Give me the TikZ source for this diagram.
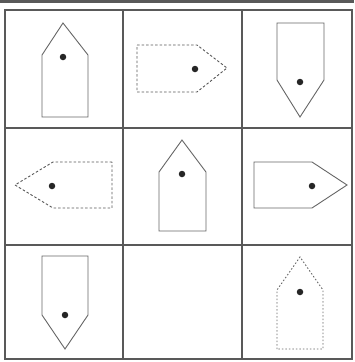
\documentclass[tikz,border=0pt]{standalone}
\begin{document}
\begin{tikzpicture}[x=1pt,y=-1pt,
  gridline/.style={draw=black!65,line width=1.1pt},
  solidshape/.style={draw=black!60,line width=0.9pt},
  dashshape/.style={draw=black!65,line width=0.9pt,dash pattern=on 2.5pt off 2pt},
  dotshape/.style={draw=black!60,line width=0.9pt,dash pattern=on 1.5pt off 2pt},
  dotmark/.style={fill=black!85,circle,inner sep=0pt,minimum size=6.5pt}]
\useasboundingbox (0,0) rectangle (354,362);
\fill[white] (0,0) rectangle (354,362);
\fill[black!65] (0,0) rectangle (354,3);
% grid
\draw[gridline] (5,10) rectangle (352,359);
\draw[gridline] (123,10) -- (123,359);
\draw[gridline] (242,10) -- (242,359);
\draw[gridline] (5,128) -- (352,128);
\draw[gridline] (5,245) -- (352,245);
% cell 1,1 up solid
\draw[solidshape] (42,117) -- (42,55) -- (63,23) -- (88,55) -- (88,117) -- cycle;
\node[dotmark] (d11) at (63,57) {};
% cell 1,2 right dashed
\draw[dashshape] (137,45) -- (197,45) -- (227,68) -- (197,92) -- (137,92) -- cycle;
\node[dotmark] (d12) at (195,69) {};
% cell 1,3 down solid
\draw[solidshape] (277,23) -- (324,23) -- (324,80) -- (300,117) -- (277,80) -- cycle;
\node[dotmark] (d13) at (300,82) {};
% cell 2,1 left dashed
\draw[dashshape] (112,162) -- (53,162) -- (15,185) -- (53,208) -- (112,208) -- cycle;
\node[dotmark] (d21) at (52,186) {};
% cell 2,2 up solid
\draw[solidshape] (159,231) -- (159,172) -- (182,140) -- (206,172) -- (206,231) -- cycle;
\node[dotmark] (d22) at (182,174) {};
% cell 2,3 right solid
\draw[solidshape] (254,162) -- (312,162) -- (347,185) -- (312,208) -- (254,208) -- cycle;
\node[dotmark] (d23) at (312,186) {};
% cell 3,1 down solid
\draw[solidshape] (42,256) -- (88,256) -- (88,315) -- (65,349) -- (42,315) -- cycle;
\node[dotmark] (d31) at (65,315) {};
% cell 3,3 up dotted
\draw[dotshape] (277,349) -- (277,290) -- (300,257) -- (323,290) -- (323,349) -- cycle;
\node[dotmark] (d33) at (300,292) {};
\end{tikzpicture}
\end{document}
